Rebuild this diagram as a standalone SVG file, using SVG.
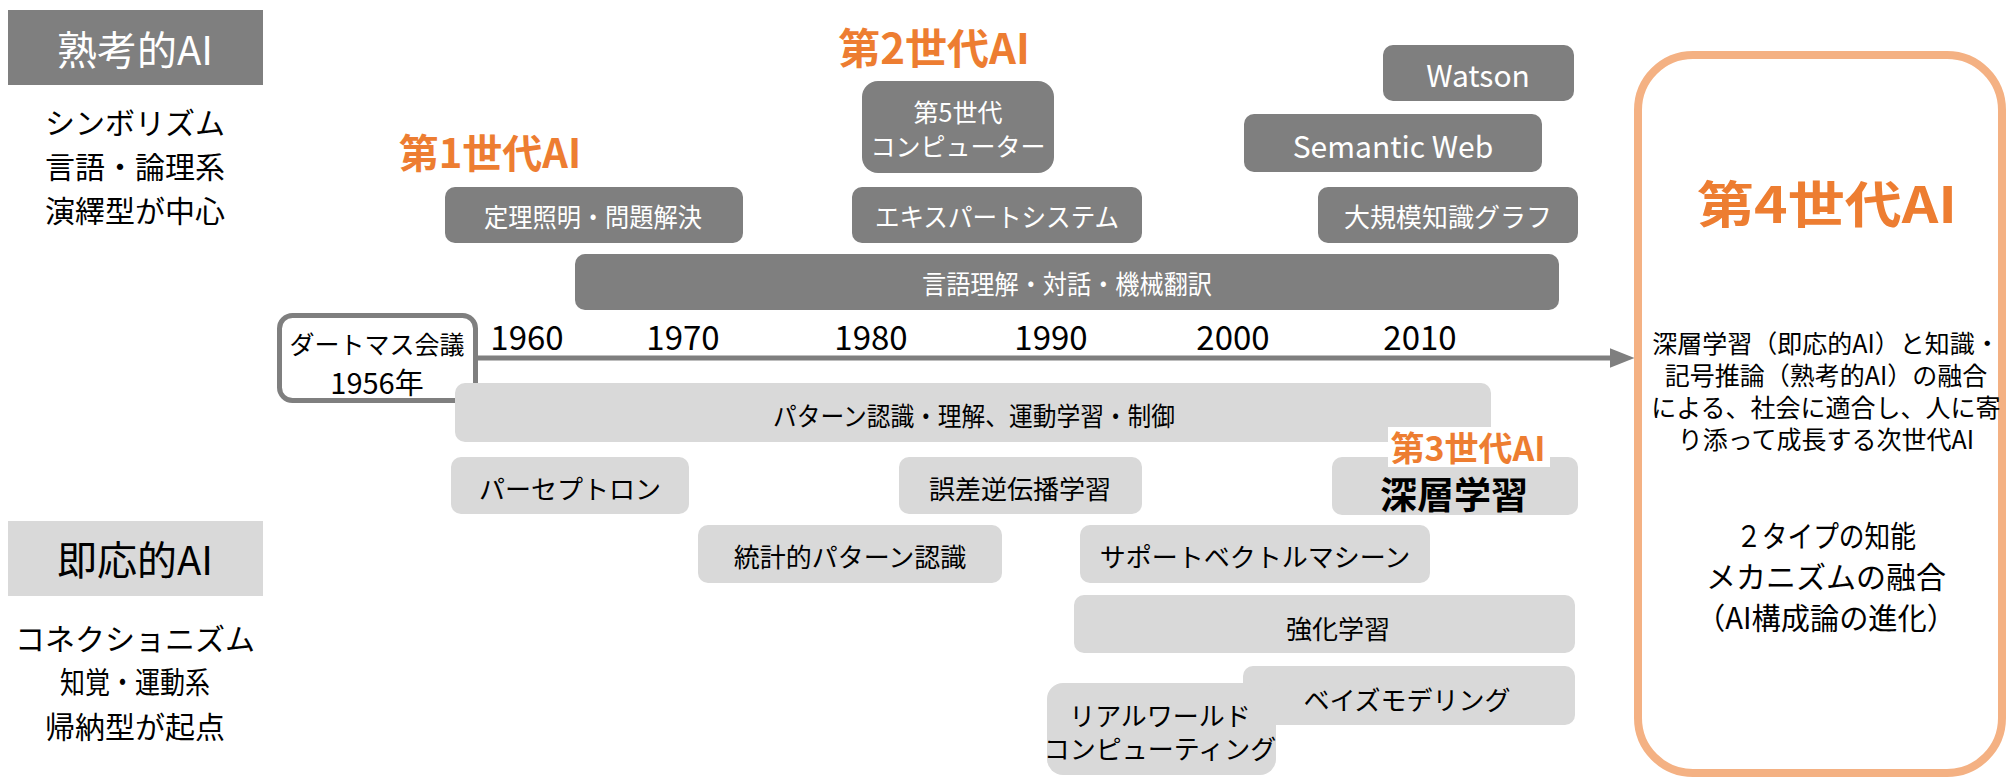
<svg xmlns="http://www.w3.org/2000/svg" width="2009" height="778" viewBox="0 0 2009 778">
<style>
text{font-family:"Noto Sans CJK JP","Noto Sans",sans-serif;text-anchor:middle;dominant-baseline:central}
.dk{fill:#7f7f7f}
.lt{fill:#d9d9d9}
.wt{fill:#ffffff;font-size:26px}
.bt{fill:#000000;font-size:26px}
.side{fill:#000000;font-size:30px}
.gen{fill:#ed7d31;font-weight:bold}
.yr{fill:#000000;font-size:33px}
.r1{fill:#000000;font-size:25px}
.r2{fill:#000000;font-size:30px}
</style>
<defs>
<marker id="ah" markerWidth="5" markerHeight="4" refX="0.5" refY="2" orient="auto" markerUnits="strokeWidth">
<path d="M0,0 L5,2 L0,4 Z" fill="#7f7f7f"/>
</marker>
</defs>

<g id="label-deliberative">
<rect x="8" y="10" width="255" height="75" class="dk"/>
<text x="135" y="48" fill="#fff" font-size="40">熟考的AI</text>
<text x="135" y="121" class="side">シンボリズム</text>
<text x="135" y="165" class="side">言語・論理系</text>
<text x="135" y="209" class="side">演繹型が中心</text>
</g>
<g id="label-reactive">
<rect x="8" y="521" width="255" height="75" class="lt"/>
<text x="135" y="558" fill="#000" font-size="40">即応的AI</text>
<text x="135" y="637" class="side">コネクショニズム</text>
<text x="135" y="680" class="side" textLength="150" lengthAdjust="spacingAndGlyphs">知覚・運動系</text>
<text x="135" y="725" class="side">帰納型が起点</text>
</g>

<g id="connectors">
<line x1="478" y1="358" x2="1612" y2="358" stroke="#7f7f7f" stroke-width="5" marker-end="url(#ah)"/>
</g>

<g id="years">
<text x="527" y="336" class="yr">1960</text>
<text x="683" y="336" class="yr">1970</text>
<text x="871" y="336" class="yr">1980</text>
<text x="1051" y="336" class="yr">1990</text>
<text x="1233" y="336" class="yr">2000</text>
<text x="1420" y="336" class="yr">2010</text>
</g>

<g id="gen1"><text x="490" y="151" class="gen" font-size="40">第1世代AI</text></g>
<g id="gen2"><text x="934" y="45" class="gen" font-size="42">第2世代AI</text></g>

<g id="theorem"><rect x="445" y="187" width="298" height="56" rx="10" class="dk"/><text x="593" y="215" class="wt" textLength="218" lengthAdjust="spacingAndGlyphs">定理照明・問題解決</text></g>
<g id="language"><rect x="575" y="254" width="984" height="56" rx="10" class="dk"/><text x="1067" y="282" class="wt" textLength="290" lengthAdjust="spacingAndGlyphs">言語理解・対話・機械翻訳</text></g>
<g id="expert"><rect x="852" y="187" width="290" height="56" rx="10" class="dk"/><text x="997" y="215" class="wt" textLength="244" lengthAdjust="spacingAndGlyphs">エキスパートシステム</text></g>
<g id="fifthgen"><rect x="862" y="81" width="192" height="92" rx="16" class="dk"/><text x="958" y="111" class="wt" style="font-size:25px">第5世代</text><text x="958" y="145" class="wt" style="font-size:25px">コンピューター</text></g>
<g id="watson"><rect x="1383" y="45" width="191" height="56" rx="10" class="dk"/><text x="1478" y="74" class="wt" style="font-size:30px">Watson</text></g>
<g id="semweb"><rect x="1244" y="114" width="298" height="58" rx="10" class="dk"/><text x="1393" y="145" class="wt" style="font-size:30px">Semantic Web</text></g>
<g id="kgraph"><rect x="1318" y="187" width="260" height="56" rx="10" class="dk"/><text x="1448" y="215" class="wt">大規模知識グラフ</text></g>

<g id="dartmouth"><rect x="279.5" y="315.5" width="196" height="85" rx="13" fill="#fff" stroke="#7f7f7f" stroke-width="5"/><text x="377" y="343" fill="#000" font-size="25">ダートマス会議</text><text x="377" y="381" fill="#000" font-size="29">1956年</text></g>

<g id="pattern"><rect x="455" y="383" width="1036" height="59" rx="10" class="lt"/><text x="974" y="414" class="bt" textLength="402" lengthAdjust="spacingAndGlyphs">パターン認識・理解、運動学習・制御</text></g>
<g id="perceptron"><rect x="451" y="457" width="238" height="57" rx="10" class="lt"/><text x="570" y="487" class="bt">パーセプトロン</text></g>
<g id="backprop"><rect x="899" y="457" width="243" height="57" rx="10" class="lt"/><text x="1020" y="487" class="bt">誤差逆伝播学習</text></g>
<g id="deeplearning"><rect x="1332" y="457" width="246" height="58" rx="10" class="lt"/><text x="1454" y="493" fill="#000" font-size="37" font-weight="bold">深層学習</text></g>
<g id="gen3"><rect x="1388" y="427" width="162" height="40" fill="#fff"/><text x="1468" y="446" class="gen" font-size="34">第3世代AI</text></g>
<g id="statpattern"><rect x="698" y="525" width="304" height="58" rx="10" class="lt"/><text x="850" y="555" class="bt">統計的パターン認識</text></g>
<g id="svm"><rect x="1080" y="525" width="350" height="58" rx="10" class="lt"/><text x="1255" y="555" class="bt">サポートベクトルマシーン</text></g>
<g id="rl"><rect x="1074" y="595" width="501" height="58" rx="10" class="lt"/><text x="1338" y="627" class="bt">強化学習</text></g>
<g id="bayes"><rect x="1243" y="666" width="332" height="59" rx="10" class="lt"/><text x="1407" y="698" class="bt">ベイズモデリング</text></g>
<g id="realworld"><rect x="1047" y="683" width="229" height="92" rx="16" class="lt"/><text x="1160" y="714" class="bt">リアルワールド</text><text x="1160" y="747" class="bt">コンピューティング</text></g>

<g id="gen4">
<rect x="1638" y="55" width="364" height="718" rx="55" fill="#fff" stroke="#f4b183" stroke-width="8"/>
<text x="1827" y="201" fill="#ed7d31" font-size="50" font-weight="bold" textLength="260" lengthAdjust="spacingAndGlyphs">第4世代AI</text>
<text x="1826" y="342" class="r1">深層学習（即応的AI）と知識・</text>
<text x="1826" y="374" class="r1">記号推論（熟考的AI）の融合</text>
<text x="1826" y="406" class="r1">による、社会に適合し、人に寄</text>
<text x="1826" y="438" class="r1">り添って成長する次世代AI</text>
<text x="1826" y="534" class="r2" textLength="180" lengthAdjust="spacingAndGlyphs">２タイプの知能</text>
<text x="1826" y="575" class="r2">メカニズムの融合</text>
<text x="1826" y="616" class="r2" textLength="260" lengthAdjust="spacingAndGlyphs">（AI構成論の進化）</text>
</g>
</svg>
